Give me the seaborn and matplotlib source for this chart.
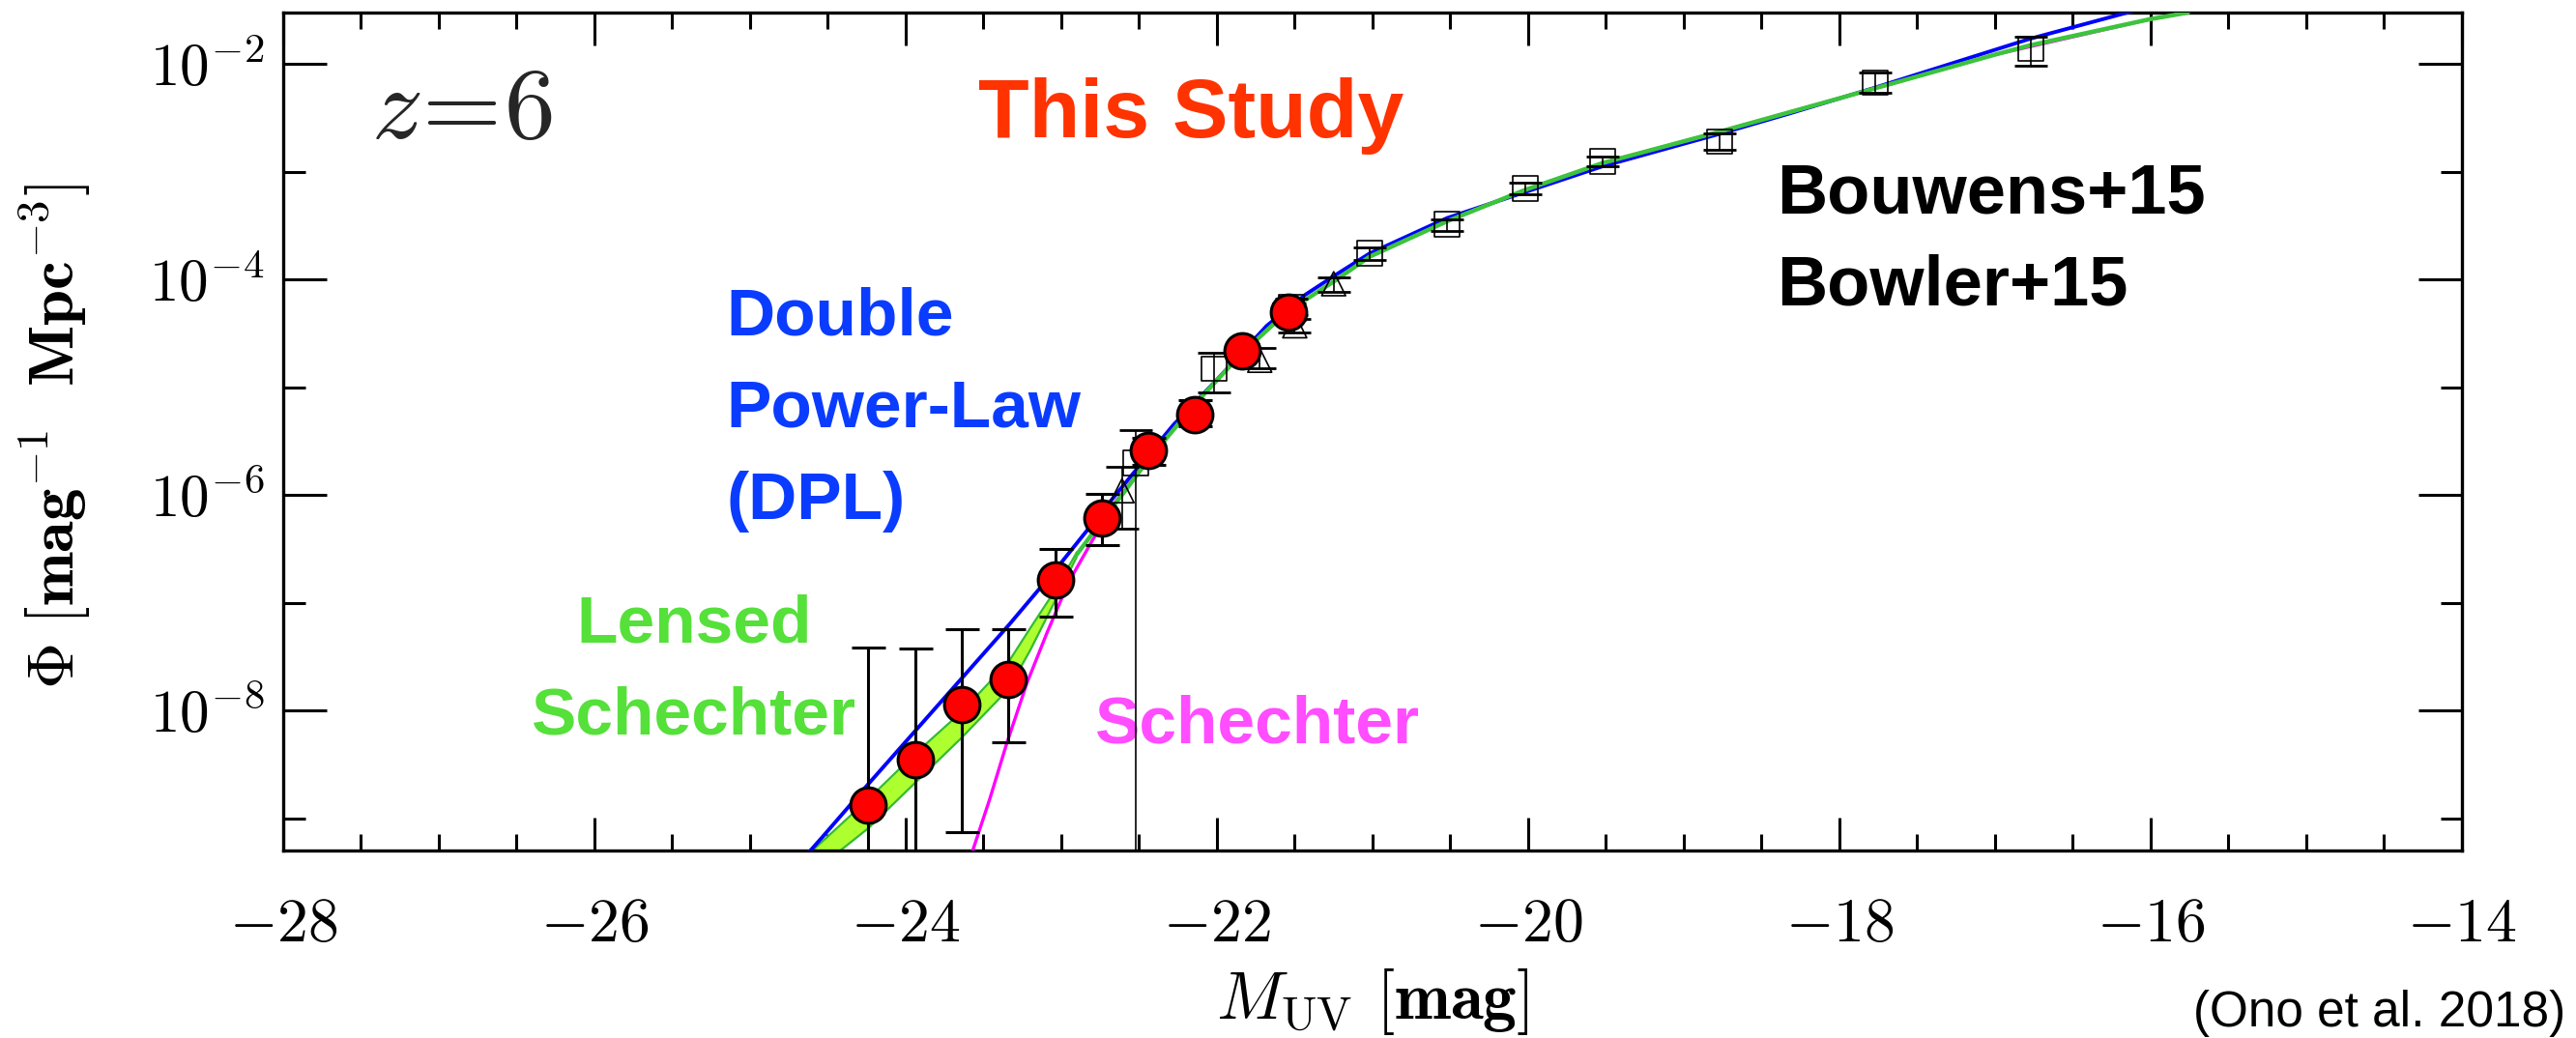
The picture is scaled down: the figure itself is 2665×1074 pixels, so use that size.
import numpy as np
import pandas as pd
import matplotlib
matplotlib.use("Agg")
import matplotlib.pyplot as plt
import seaborn as sns
from matplotlib.ticker import FixedLocator, MultipleLocator, FuncFormatter

# ==========================
# DATA  (M_UV in mag, Phi as log10)
# ==========================

# This Study (red circles); None = error bar reaches zero
study_muv = [-24.24, -23.94, -23.64, -23.34, -23.04, -22.74, -22.44, -22.14, -21.84, -21.54]
study_log = [-8.88, -8.45, -7.94, -7.71, -6.79, -6.21, -5.59, -5.25, -4.665, -4.30]
study_hi = [-7.41, -7.42, -7.24, -7.24, -6.50, -5.99, -5.47, -5.12, -4.60, -4.22]
study_lo = [None, None, -9.13, -8.29, -7.13, -6.46, -5.72, -5.36, -4.73, -4.38]

# Bouwens+15 (open squares)
bouw_muv = [-22.52, -22.02, -21.52, -21.02, -20.52, -20.02, -19.52, -18.77, -17.77, -16.77]
bouw_log = [-5.70, -4.83, -4.26, -3.755, -3.49, -3.155, -2.905, -2.72, -2.175, -1.86]
bouw_hi = [-5.40, -4.68, -4.18, -3.70, -3.445, -3.105, -2.858, -2.648, -2.08, -1.75]
bouw_lo = [None, -5.045, -4.33, -3.82, -3.554, -3.21, -2.948, -2.80, -2.27, -2.02]

# Bowler+15 (open triangles)
bowl_muv = [-22.61, -21.725, -21.50, -21.25]
bowl_log = [-5.96, -4.75, -4.43, -4.04]
bowl_hi = [-5.735, -4.636, -4.367, -3.978]
bowl_lo = [-6.31, -4.824, -4.49, -4.113]

# Double power-law fit (blue)
dpl_muv = [-24.70, -24.54, -24.24, -23.94, -23.64, -23.34, -23.03, -22.68, -22.51, -22.28,
           -22.00, -21.68, -21.43, -21.25, -21.02, -20.52, -20.02, -19.52, -18.77, -18.33,
           -17.78, -16.78, -16.15, -16.00]
dpl_log = [-9.44, -9.18, -8.68, -8.19, -7.70, -7.21, -6.68, -6.05, -5.75, -5.35,
           -4.93, -4.43, -4.14, -3.97, -3.76, -3.43, -3.19, -2.95, -2.65, -2.465,
           -2.225, -1.77, -1.525, -1.47]

# Lensed Schechter: uncertainty band at the bright end, then the line (green)
band_muv = [-24.70, -24.42, -24.24, -23.94, -23.64, -23.34, -23.20, -23.05, -22.90]
band_hi = [-9.43, -9.06, -8.82, -8.40, -8.01, -7.55, -7.235, -6.906, -6.53]
band_lo = [-9.62, -9.297, -9.09, -8.67, -8.25, -7.80, -7.44, -7.01, -6.57]

lens_muv = [-22.90, -22.75, -22.60, -22.45, -22.15, -21.85, -21.55, -21.25, -21.02, -20.52,
            -20.02, -19.52, -18.77, -18.00, -17.00, -16.78, -16.00, -15.76]
lens_log = [-6.55, -6.26, -5.98, -5.69, -5.17, -4.70, -4.30, -4.02, -3.79, -3.46,
            -3.17, -2.92, -2.63, -2.32, -1.915, -1.83, -1.585, -1.525]

# Schechter (magenta)
sch_muv = [-23.62, -23.57, -23.46, -23.35, -23.22, -23.09, -22.95, -22.80, -22.65, -22.45,
           -22.15, -21.85, -21.55, -21.25, -21.02, -20.52, -20.02, -19.52, -18.77, -18.00,
           -17.00, -16.00, -15.76]
sch_log = [-9.52, -9.30, -8.82, -8.30, -7.74, -7.27, -6.80, -6.42, -6.06, -5.69,
           -5.17, -4.70, -4.30, -4.02, -3.79, -3.46, -3.17, -2.92, -2.63, -2.32,
           -1.915, -1.585, -1.525]

x_ticks = [-28, -26, -24, -22, -20, -18, -16, -14]
y_ticks = [-2, -4, -6, -8]
y_minor = [-3, -5, -7, -9]


def to_phi(logs):
    return np.array([0.0 if v is None else 10.0 ** v for v in logs])


def err_pair(logs, lo, hi):
    phi = to_phi(logs)
    return [phi - to_phi(lo), to_phi(hi) - phi]


# ==========================
# STYLE
# ==========================

sns.set_theme(style="ticks")
plt.rcParams['font.family'] = ['Liberation Sans', 'DejaVu Sans']
plt.rcParams['mathtext.fontset'] = 'cm'
plt.rcParams['axes.linewidth'] = 1.2

fig = plt.figure(figsize=(13.325, 5.37), dpi=200)
ax = fig.add_axes([0.10994, 0.18063, 0.84578, 0.80726])
ax.set_yscale('log', nonpositive='clip')

# ==========================
# MODEL CURVES
# ==========================

ax.fill_between(band_muv, to_phi(band_lo), to_phi(band_hi), color='#adff2f', lw=0, zorder=1)
for edge in (band_lo, band_hi):
    sns.lineplot(x=band_muv, y=to_phi(edge), sort=False, estimator=None,
                 color='#33bb33', lw=0.8, ax=ax, zorder=2)

sns.lineplot(x=dpl_muv, y=to_phi(dpl_log), sort=False, estimator=None,
             color='#0000ff', lw=1.4, ax=ax, zorder=3)
sns.lineplot(x=sch_muv, y=to_phi(sch_log), sort=False, estimator=None,
             color='#ff00ff', lw=1.2, ax=ax, zorder=3)
sns.lineplot(x=lens_muv, y=to_phi(lens_log), sort=False, estimator=None,
             color='#3cc43c', lw=1.6, ax=ax, zorder=4)

# ==========================
# DATA POINTS
# ==========================

ax.errorbar(bouw_muv, to_phi(bouw_log), yerr=err_pair(bouw_log, bouw_lo, bouw_hi),
            fmt='none', ecolor='black', elinewidth=0.6, capsize=6, capthick=1.0, zorder=5)
sns.scatterplot(x=bouw_muv, y=to_phi(bouw_log), marker='s', s=85, facecolor='none',
                edgecolor='black', linewidth=0.6, ax=ax, zorder=5)

ax.errorbar(bowl_muv, to_phi(bowl_log), yerr=err_pair(bowl_log, bowl_lo, bowl_hi),
            fmt='none', ecolor='black', elinewidth=0.6, capsize=6, capthick=1.0, zorder=5)
sns.scatterplot(x=bowl_muv, y=to_phi(bowl_log), marker='^', s=80, facecolor='none',
                edgecolor='black', linewidth=0.6, ax=ax, zorder=5)

ax.errorbar(study_muv, to_phi(study_log), yerr=err_pair(study_log, study_lo, study_hi),
            fmt='none', ecolor='black', elinewidth=1.1, capsize=6.3, capthick=1.1, zorder=6)
sns.scatterplot(x=study_muv, y=to_phi(study_log), marker='o', s=175, color='#ff0000',
                edgecolor='black', linewidth=1.1, ax=ax, zorder=7)

# ==========================
# AXES
# ==========================

ax.set_xlim(-28, -14)
ax.set_ylim(10 ** -9.297, 10 ** -1.525)

ax.xaxis.set_major_locator(FixedLocator(x_ticks))
ax.xaxis.set_minor_locator(MultipleLocator(0.5))
ax.xaxis.set_major_formatter(FuncFormatter(lambda v, p: r'$\mathbf{%d}$' % round(v)))
ax.yaxis.set_major_locator(FixedLocator([10.0 ** t for t in y_ticks]))
ax.yaxis.set_minor_locator(FixedLocator([10.0 ** t for t in y_minor]))
ax.yaxis.set_major_formatter(FuncFormatter(
    lambda v, p: r'$\mathbf{10^{%d}}$' % round(np.log10(v))))
ax.yaxis.set_minor_formatter(FuncFormatter(lambda v, p: ''))

ax.tick_params(axis='both', which='both', direction='in', top=True, right=True,
               width=1.1, color='black', labelcolor='black')
ax.tick_params(axis='x', which='major', length=12.2, pad=17, labelsize=23)
ax.tick_params(axis='x', which='minor', length=6.1)
ax.tick_params(axis='y', which='major', length=16.2, pad=7, labelsize=22)
ax.tick_params(axis='y', which='minor', length=8.1)
for sp in ax.spines.values():
    sp.set_color('black')
    sp.set_linewidth(1.2)

ax.set_xlabel(r'$M_{\rm UV}\ [\mathbf{mag}]$', fontsize=25, color='black')
ax.set_ylabel(r'$\mathbf{\Phi}\ [\mathbf{mag^{-1}\ \ Mpc^{-3}}]$', fontsize=24, color='black')
ax.xaxis.set_label_coords(0.5, -0.138)
ax.yaxis.set_label_coords(-0.0874, 0.494)

# ==========================
# ANNOTATIONS
# ==========================

ax.text(-27.435, 10 ** -2.686, r'$z\!=\!6$', fontsize=38, ha='left', va='baseline')
ax.text(-20.80, 10 ** -2.68, 'This Study', color='#ff3300', fontsize=31,
        fontweight='bold', ha='right', va='baseline')
for txt, ly in [('Double', -4.512), ('Power-Law', -5.368), ('(DPL)', -6.224)]:
    ax.text(-25.15, 10 ** ly, txt, color='#0a3cff', fontsize=25, fontweight='bold',
            ha='left', va='baseline')
for txt, ly in [('Lensed', -7.366), ('Schechter', -8.22)]:
    ax.text(-25.36, 10 ** ly, txt, color='#55e03a', fontsize=25, fontweight='bold',
            ha='center', va='baseline')
ax.text(-22.78, 10 ** -8.293, 'Schechter', color='#ff4dff', fontsize=25,
        fontweight='bold', ha='left', va='baseline')
ax.text(-18.40, 10 ** -3.387, 'Bouwens+15', color='black', fontsize=26,
        fontweight='bold', ha='left', va='baseline')
ax.text(-18.40, 10 ** -4.241, 'Bowler+15', color='black', fontsize=26,
        fontweight='bold', ha='left', va='baseline')

fig.text(0.996, 0.011, '(Ono et al. 2018)', fontsize=18.5, ha='right', va='baseline',
         color='black')

fig.savefig('out.png', dpi=200)
